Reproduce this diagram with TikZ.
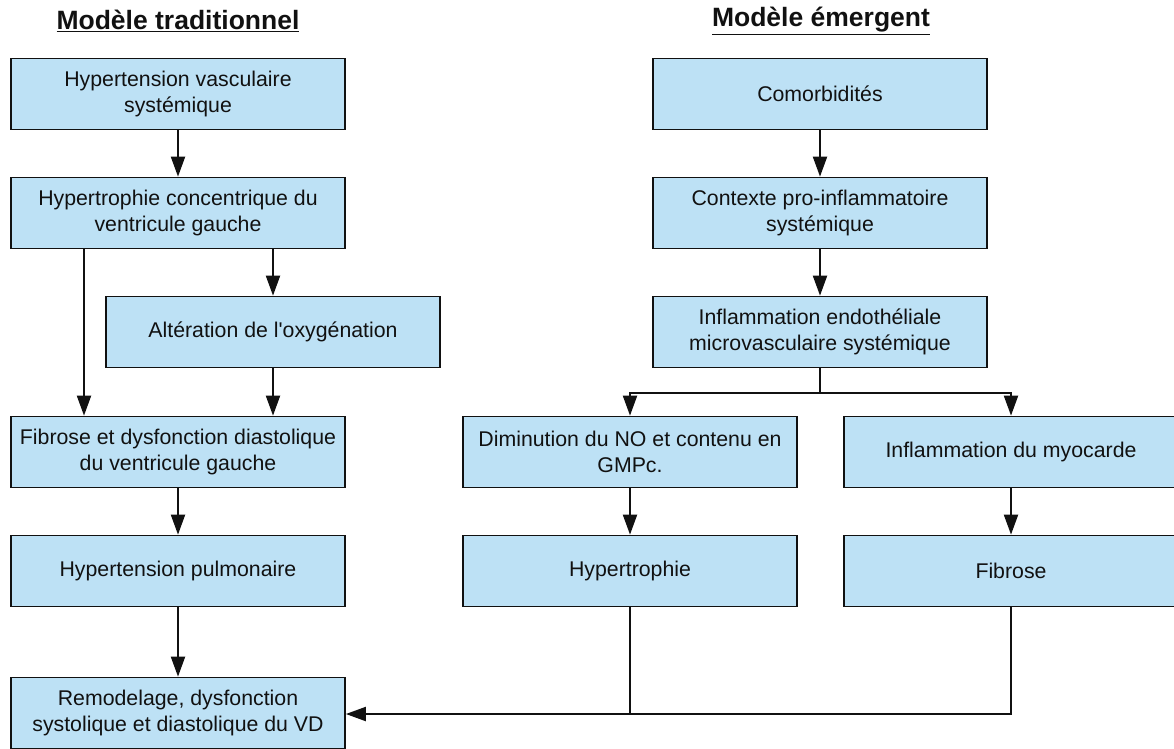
\documentclass[tikz,border=0pt]{standalone}
\usepackage{fontspec}
\setmainfont{Liberation Sans}
\usetikzlibrary{arrows.meta}
\definecolor{boxblue}{HTML}{BDE1F5}
\definecolor{ink}{HTML}{111111}
\begin{document}
\begin{tikzpicture}[x=1pt,y=-1pt,
  box/.style={draw=ink, line width=1.7pt, fill=boxblue, minimum width=334pt,
    minimum height=71pt, inner sep=0pt, align=center,
    font=\fontsize{21.3}{25.5}\selectfont, text=ink},
  ttl/.style={font=\fontsize{26.5}{30}\selectfont\bfseries, text=ink},
  arr/.style={draw=ink, line width=2pt, -{Triangle[length=20pt,width=14pt]}},
  ln/.style={draw=ink, line width=2pt},
  thinln/.style={draw=ink, line width=1.3pt},
]
\useasboundingbox (0,0) rectangle (1174,748);
% titles
\node[ttl] (t1) at (178,21) {\underline{Modèle traditionnel}};
\node[ttl] (t2) at (821,21) {\underline{Modèle émergent}};
% left column
\node[box] (B1) at (178,94) {Hypertension vasculaire\\systémique};
\node[box] (B2) at (178,213) {Hypertrophie concentrique du\\ventricule gauche};
\node[box] (B3) at (273,332) {Altération de l\textquotesingle oxygénation};
\node[box] (B4) at (178,452) {Fibrose et dysfonction diastolique\\du ventricule gauche};
\node[box] (B5) at (178,571) {Hypertension pulmonaire};
\node[box] (B6) at (178,713) {Remodelage, dysfonction\\systolique et diastolique du VD};
% right column
\node[box] (R1) at (820,94) {Comorbidités};
\node[box] (R2) at (820,213) {Contexte pro-inflammatoire\\systémique};
\node[box] (R3) at (820,332) {Inflammation endothéliale\\microvasculaire systémique};
\node[box] (R4) at (630,452) {Diminution du NO et contenu en\\GMPc.};
\node[box] (R5) at (1011,452) {Inflammation du myocarde};
\node[box] (R6) at (630,571) {Hypertrophie};
\node[box] (R7) at (1011,571) {Fibrose};
% helper coordinates
\coordinate (c84) at (84,0);
\coordinate (br) at (820,393);
\coordinate (bot) at (0,714);
% left connectors
\draw[arr] (B1) -- (B2);
\draw[arr] (B2.south -| c84) -- (B4.north -| c84);
\draw[arr] (B2.south -| B3.north) -- (B3.north);
\draw[arr] (B3.south) -- (B4.north -| B3.south);
\draw[arr] (B4) -- (B5);
\draw[arr] (B5) -- (B6);
% right connectors
\draw[arr] (R1) -- (R2);
\draw[arr] (R2) -- (R3);
\draw[ln] (R3.south) -- (br);
\draw[arr] (br) -| (R4.north);
\draw[arr] (br) -| (R5.north);
\draw[arr] (R4) -- (R6);
\draw[arr] (R5) -- (R7);
\draw[thinln] (R7.south) |- (R6.south |- bot);
\draw[thinln] (R6.south) -- (R6.south |- bot);
\draw[arr] (R6.south |- bot) -- (B6.east |- bot);
\end{tikzpicture}
\end{document}
